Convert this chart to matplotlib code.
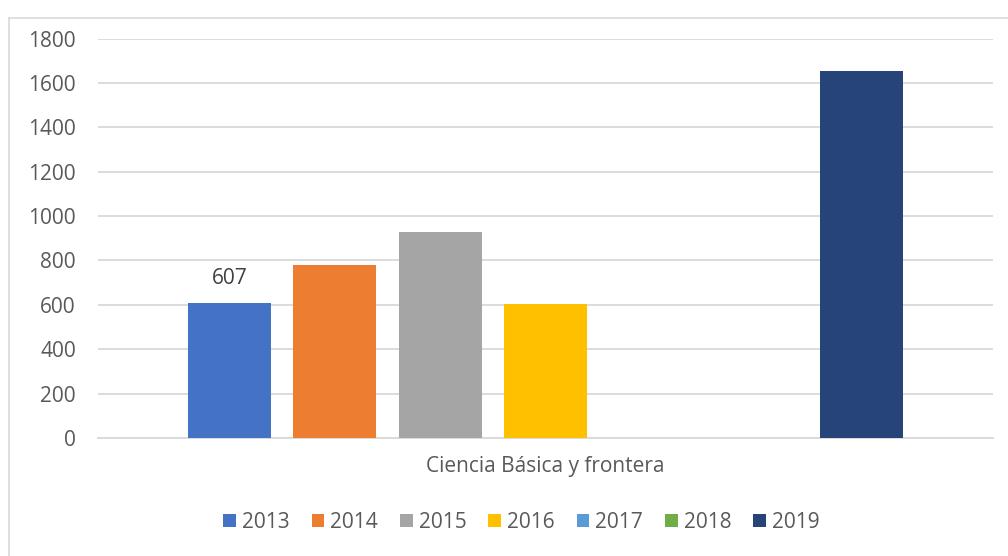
import matplotlib.pyplot as plt
from matplotlib.lines import Line2D

category = "Ciencia Básica y frontera"
years = ['2013', '2014', '2015', '2016', '2017', '2018', '2019']
values = [607, 780, 929, 605, 0, 0, 1656]
colors = ['#4472C4', '#ED7D31', '#A5A5A5', '#FFC000', '#5B9BD5', '#70AD47', '#264478']
yticks = [0, 200, 400, 600, 800, 1000, 1200, 1400, 1600, 1800]

plt.rcParams['font.family'] = ['Open Sans', 'DejaVu Sans']
text_color = '#595959'
grid_color = '#d9d9d9'

fig = plt.figure(figsize=(10.08, 5.56), dpi=100)
ax = fig.add_axes([98 / 1008, 1 - 438 / 556, (993 - 98) / 1008, (438 - 38.6) / 556])

step = 1 / 8.5
width = 83 / 895
bars = []
for i, (yr, v, c) in enumerate(zip(years, values, colors)):
    b = ax.bar((i - 3) * step, v, width=width, color=c, label=yr, zorder=3)
    bars.append(b)

# only the first bar carries a data label
ax.bar_label(bars[0], labels=[str(values[0])], padding=10, fontsize=15, color='#404040')

ax.set_xlim(-0.5, 0.5)
ax.set_ylim(0, 1800)
ax.set_yticks(yticks)
ax.set_xticks([0])
ax.set_xticklabels([category])
ax.tick_params(axis='y', length=0, pad=16, labelsize=15, labelcolor=text_color)
ax.tick_params(axis='x', length=0, pad=13, labelsize=15, labelcolor=text_color)
ax.grid(axis='y', color=grid_color, linewidth=1.3, zorder=0)
for s in ['top', 'right', 'left']:
    ax.spines[s].set_visible(False)
ax.spines['bottom'].set_color(grid_color)
ax.spines['bottom'].set_linewidth(1.3)

fig.legend(loc='center', bbox_to_anchor=(521.5 / 1008, 1 - 522 / 556), ncol=7,
           frameon=False, fontsize=15, labelcolor=text_color,
           handlelength=0.6, handleheight=0.6, handletextpad=0.3, columnspacing=1.05)

# chart frame (only left and top edges visible in the crop)
fig.add_artist(Line2D([9 / 1008, 9 / 1008], [0, 1 - 18 / 556], color=grid_color, linewidth=1.2))
fig.add_artist(Line2D([9 / 1008, 1], [1 - 18 / 556, 1 - 18 / 556], color=grid_color, linewidth=1.2))

fig.savefig('out.png', dpi=100)
